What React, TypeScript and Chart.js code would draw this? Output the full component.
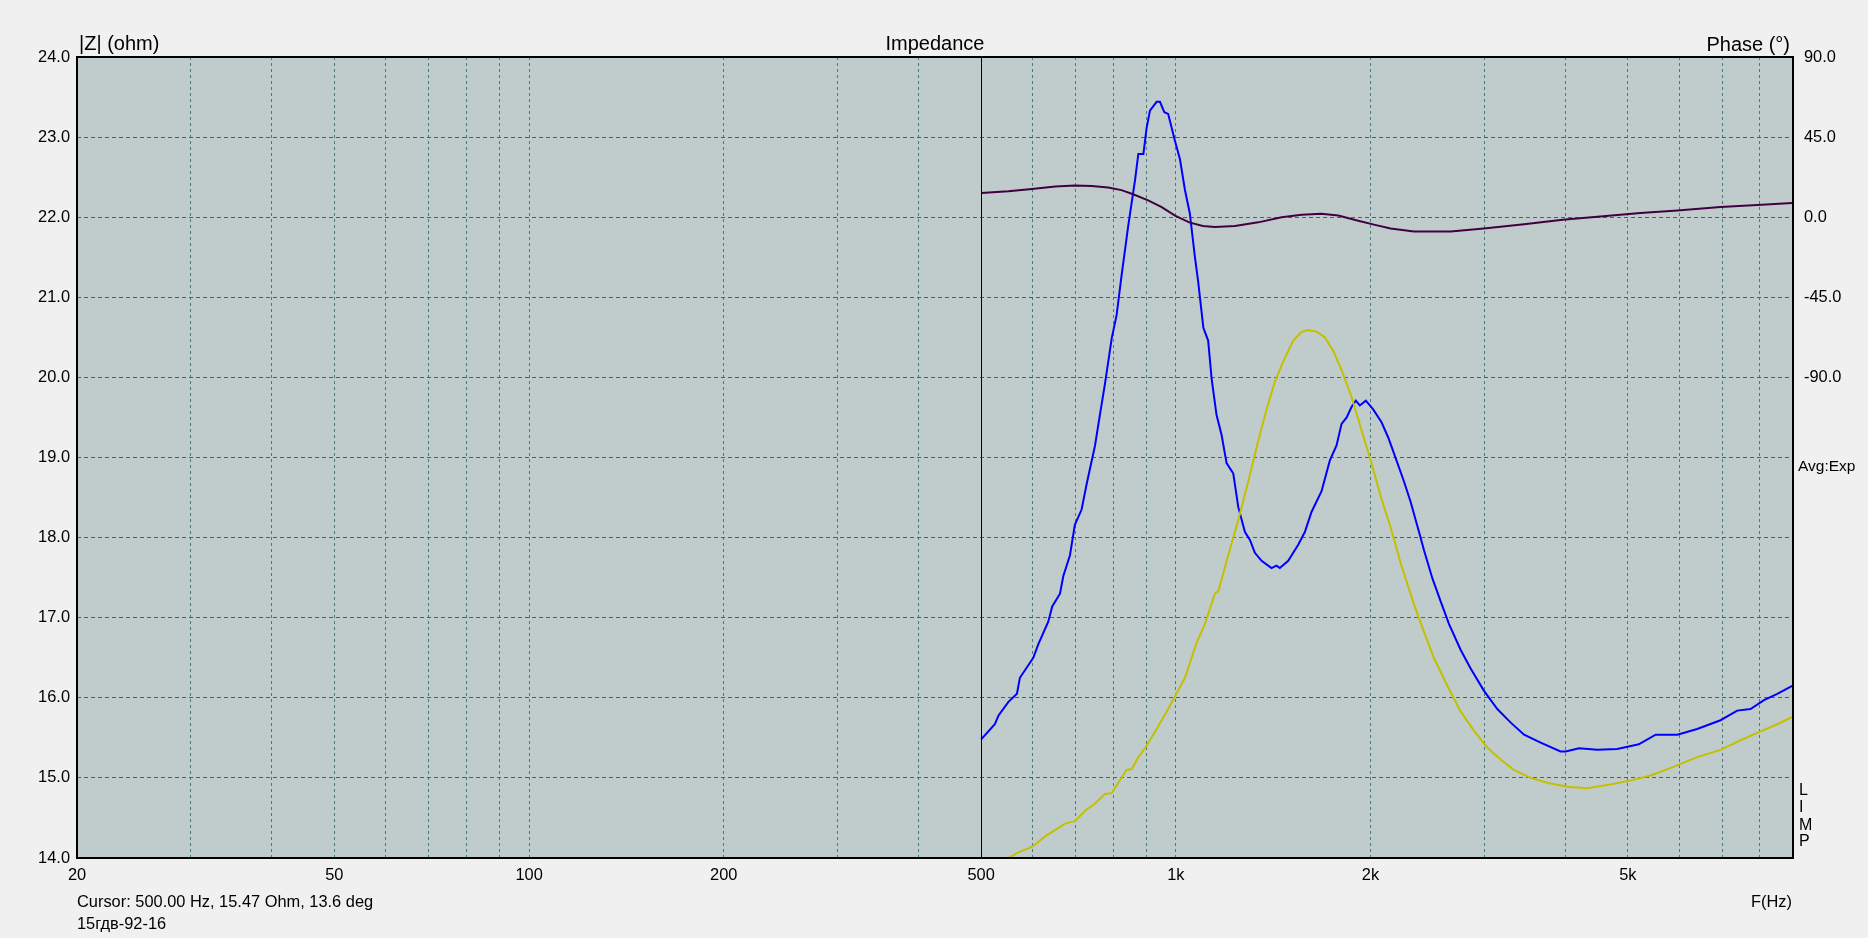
import React, { useEffect, useRef } from "react";
import { Chart, registerables } from "chart.js";

Chart.register(...registerables);

// ---- Data ----
const impFreq = [
  500, 525, 532, 551, 568, 574, 602, 613, 635, 644, 662, 670, 686, 698, 715, 728, 750, 763, 777, 796,
  810, 824, 844, 865, 875, 891, 901, 912, 934, 945, 960, 973, 997, 1015, 1033, 1051, 1070, 1083, 1103,
  1122, 1136, 1156, 1177, 1198, 1227, 1249, 1279, 1302, 1325, 1357, 1406, 1431, 1448, 1492, 1546, 1583,
  1621, 1680, 1730, 1772, 1804, 1837, 1869, 1898, 1925, 1967, 2019, 2080, 2130, 2188, 2253, 2306, 2377,
  2420, 2493, 2568, 2645, 2756, 2855, 2994, 3141, 3295, 3455, 3665, 3934, 4007, 4201, 4484, 4813, 5198,
  5519, 5962, 6399, 6953, 7379, 7737, 8116, 8510, 8974,
];
const impOhm = [
  15.48, 15.67, 15.78, 15.95, 16.05, 16.25, 16.5, 16.67, 16.95, 17.14, 17.3, 17.52, 17.78, 18.16, 18.35,
  18.67, 19.15, 19.53, 19.92, 20.49, 20.78, 21.26, 21.89, 22.47, 22.79, 22.79, 23.11, 23.33, 23.44, 23.44,
  23.31, 23.29, 22.95, 22.72, 22.34, 22.05, 21.51, 21.19, 20.62, 20.46, 19.98, 19.53, 19.28, 18.93, 18.8,
  18.38, 18.07, 17.97, 17.81, 17.71, 17.62, 17.65, 17.62, 17.71, 17.91, 18.07, 18.32, 18.58, 18.96, 19.15,
  19.42, 19.5, 19.63, 19.71, 19.65, 19.71, 19.6, 19.44, 19.25, 18.99, 18.7, 18.45, 18.07, 17.84, 17.49,
  17.2, 16.92, 16.6, 16.37, 16.09, 15.86, 15.69, 15.54, 15.44, 15.33, 15.33, 15.37, 15.35, 15.36, 15.42,
  15.54, 15.54, 15.61, 15.72, 15.84, 15.86, 15.97, 16.05, 16.15,
];

const fitFreq = [
  548, 571, 592, 602, 628, 654, 674, 698, 724, 750, 777, 796, 815, 839, 855, 875, 896, 934, 968, 997,
  1033, 1077, 1109, 1149, 1163, 1205, 1249, 1294, 1341, 1381, 1423, 1466, 1519, 1565, 1602, 1651, 1700,
  1752, 1804, 1869, 1937, 2007, 2080, 2148, 2227, 2334, 2420, 2506, 2629, 2756, 2890, 3030, 3178, 3332,
  3536, 3752, 4028, 4324, 4642, 5000, 5419, 5890, 6399, 6953, 7466, 8022, 8510, 8974,
];
const fitOhm = [
  13.99, 14.07, 14.12, 14.15, 14.27, 14.36, 14.43, 14.46, 14.59, 14.68, 14.8, 14.81, 14.94, 15.1, 15.11,
  15.26, 15.37, 15.61, 15.83, 16.02, 16.25, 16.69, 16.92, 17.3, 17.33, 17.78, 18.22, 18.7, 19.21, 19.6,
  19.95, 20.2, 20.46, 20.57, 20.59, 20.57, 20.5, 20.33, 20.09, 19.76, 19.34, 18.93, 18.48, 18.13, 17.68,
  17.17, 16.82, 16.5, 16.15, 15.83, 15.59, 15.38, 15.23, 15.1, 15.0, 14.94, 14.89, 14.87, 14.91, 14.96,
  15.03, 15.14, 15.26, 15.35, 15.47, 15.58, 15.67, 15.76,
];

const phaseFreq = [
  500, 551, 599, 651, 698, 741, 786, 824, 859, 906, 951, 997, 1049, 1101, 1149, 1234, 1341, 1457, 1565,
  1680, 1783, 1914, 2032, 2148, 2334, 2660, 2994, 3455, 3963, 4484, 5229, 5962, 6953, 7922, 8974,
];
const phaseDeg = [
  13.6, 14.6, 15.8, 17.2, 17.8, 17.5, 16.7, 15.2, 12.9, 9.5, 5.7, 0.9, -2.9, -4.9, -5.5, -4.9, -2.9, 0,
  1.4, 2.0, 0.9, -2.0, -4.3, -6.3, -8.0, -8.0, -6.3, -4.0, -1.4, 0.3, 2.3, 3.7, 5.7, 6.9, 8.0,
];

const xTickValues = [
  20, 30, 40, 50, 60, 70, 80, 90, 100, 200, 300, 400, 500, 600, 700, 800, 900, 1000, 2000, 3000, 4000,
  5000, 6000, 7000, 8000, 9000,
];
const xTickLabels: Record<number, string> = {
  20: "20", 50: "50", 100: "100", 200: "200", 500: "500", 1000: "1k", 2000: "2k", 5000: "5k",
};
const zTickValues = [14, 15, 16, 17, 18, 19, 20, 21, 22, 23, 24];
const phaseTickValues = [90, 45, 0, -45, -90];

const cursorFreq = 500;
const cursorText = "Cursor: 500.00 Hz, 15.47 Ohm, 13.6 deg";
const fileName = "15гдв-92-16";

const FONT = "'Liberation Sans', Arial, sans-serif";

const decorPlugin = {
  id: "decor",
  beforeDraw(chart: any) {
    const { ctx, chartArea: a } = chart;
    ctx.save();
    ctx.fillStyle = "#f0f0f0";
    ctx.fillRect(0, 0, chart.width, chart.height);
    ctx.fillStyle = "#c0cccc";
    ctx.fillRect(a.left, a.top, a.right - a.left, a.bottom - a.top);
    ctx.restore();
  },
  afterDraw(chart: any) {
    const { ctx, chartArea: a, scales } = chart;
    ctx.save();
    // cursor line
    const cx = Math.round(scales.x.getPixelForValue(cursorFreq)) + 0.5;
    ctx.strokeStyle = "#000";
    ctx.lineWidth = 1;
    ctx.beginPath();
    ctx.moveTo(cx, a.top);
    ctx.lineTo(cx, a.bottom);
    ctx.stroke();
    // frame
    ctx.lineWidth = 2;
    ctx.strokeRect(a.left, a.top, a.right - a.left, a.bottom - a.top);

    ctx.fillStyle = "#000";
    ctx.textBaseline = "alphabetic";
    ctx.font = `20px ${FONT}`;
    ctx.textAlign = "left";
    ctx.fillText("|Z| (ohm)", a.left + 2, 50);
    ctx.textAlign = "center";
    ctx.fillText("Impedance", (a.left + a.right) / 2, 49.5);
    ctx.textAlign = "right";
    ctx.fillText("Phase (°)", a.right - 3, 50.5);

    ctx.font = `16.4px ${FONT}`;
    ctx.textAlign = "left";
    ctx.fillText(cursorText, a.left, 907);
    ctx.fillText(fileName, a.left, 929);
    ctx.textAlign = "right";
    ctx.fillText("F(Hz)", a.right - 1, 907);

    ctx.textAlign = "left";
    ctx.textBaseline = "middle";
    ctx.font = `15.5px ${FONT}`;
    ctx.fillText("Avg:Exp", a.right + 5, 467);
    ctx.font = `16px ${FONT}`;
    const letters = ["L", "I", "M", "P"];
    const ys = [791, 808, 825.5, 842];
    letters.forEach((l, i) => ctx.fillText(l, a.right + 6, ys[i]));
    ctx.restore();
  },
};

export default function App() {
  const canvasRef = useRef<HTMLCanvasElement | null>(null);

  useEffect(() => {
    if (!canvasRef.current) return;
    const tickFont = { family: FONT, size: 16.4 };
    const chart = new Chart(canvasRef.current, {
      type: "line",
      data: {
        datasets: [
          {
            label: "Phase",
            data: phaseFreq.map((f, i) => ({ x: f, y: phaseDeg[i] })),
            borderColor: "#400040",
            borderWidth: 2,
            pointRadius: 0,
            yAxisID: "y2",
          },
          {
            label: "Fit",
            data: fitFreq.map((f, i) => ({ x: f, y: fitOhm[i] })),
            borderColor: "#c4c000",
            borderWidth: 2,
            pointRadius: 0,
            yAxisID: "y",
          },
          {
            label: "|Z|",
            data: impFreq.map((f, i) => ({ x: f, y: impOhm[i] })),
            borderColor: "#0000ff",
            borderWidth: 2,
            pointRadius: 0,
            yAxisID: "y",
          },
        ],
      },
      options: {
        animation: false,
        responsive: false,
        devicePixelRatio: 1,
        layout: { padding: { top: 57, left: 0, right: 0, bottom: 0 } },
        plugins: { legend: { display: false }, tooltip: { enabled: false }, title: { display: false } },
        elements: { line: { tension: 0 } },
        scales: {
          x: {
            type: "logarithmic",
            position: "bottom",
            min: 20,
            max: 9000,
            afterBuildTicks: (s: any) => {
              s.ticks = xTickValues.map((v) => ({ value: v }));
            },
            afterFit: (s: any) => {
              s.height = 80;
            },
            grid: {
              drawTicks: false,
              lineWidth: 1,
              color: (c: any) =>
                c.tick && (c.tick.value === 20 || c.tick.value === 9000 || c.tick.value === cursorFreq)
                  ? "rgba(0,0,0,0)"
                  : "#3f7f7f",
            },
            border: { display: false, dash: [3, 3] },
            ticks: {
              autoSkip: false,
              maxRotation: 0,
              minRotation: 0,
              padding: 8,
              color: "#000",
              font: tickFont,
              callback: (v: any) => xTickLabels[Number(v)] ?? "",
            },
          },
          y: {
            type: "linear",
            position: "left",
            min: 14,
            max: 24,
            afterBuildTicks: (s: any) => {
              s.ticks = zTickValues.map((v) => ({ value: v }));
            },
            afterFit: (s: any) => {
              s.width = 77;
            },
            grid: {
              drawTicks: false,
              lineWidth: 1,
              color: (c: any) =>
                c.tick && (c.tick.value === 14 || c.tick.value === 24) ? "rgba(0,0,0,0)" : "#59614f",
            },
            border: { display: false, dash: [4, 3] },
            ticks: {
              padding: 7,
              color: "#000",
              font: tickFont,
              callback: (v: any) => Number(v).toFixed(1),
            },
          },
          y2: {
            type: "linear",
            position: "right",
            min: -360,
            max: 90,
            afterBuildTicks: (s: any) => {
              s.ticks = phaseTickValues.map((v) => ({ value: v }));
            },
            afterFit: (s: any) => {
              s.width = 75;
            },
            grid: { display: false, drawTicks: false },
            border: { display: false },
            ticks: {
              padding: 11,
              color: "#000",
              font: tickFont,
              callback: (v: any) => Number(v).toFixed(1),
            },
          },
        },
      },
      plugins: [decorPlugin],
    } as any);
    return () => chart.destroy();
  }, []);

  return (
    <div
      style={{
        position: "fixed",
        left: 0,
        top: 0,
        width: 1868,
        height: 938,
        background: "#f0f0f0",
      }}
    >
      <canvas ref={canvasRef} width={1868} height={938} style={{ display: "block" }} />
    </div>
  );
}
